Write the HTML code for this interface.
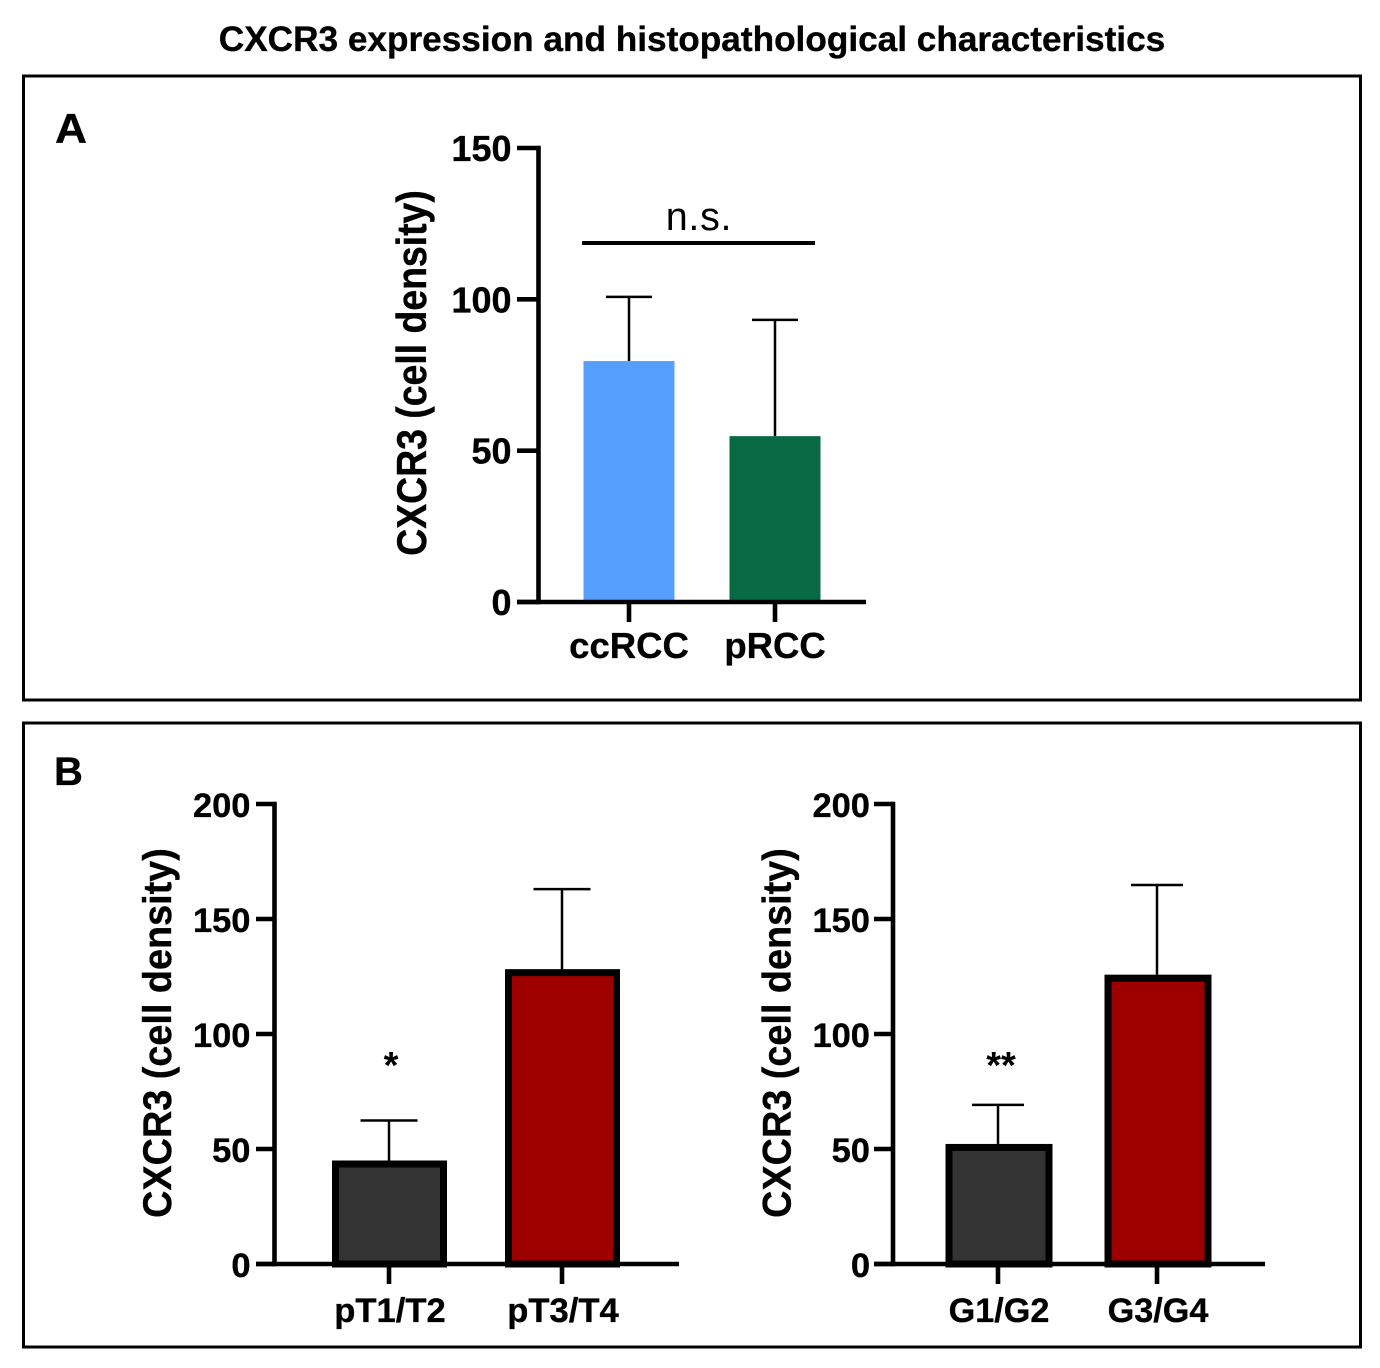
<!DOCTYPE html>
<html lang="en">
<head>
<meta charset="utf-8">
<title>CXCR3 expression and histopathological characteristics</title>
<style>
html,body{margin:0;padding:0;background:#fff;}
svg{display:block;}
text{font-family:"Liberation Sans",Arial,sans-serif;fill:#000;}
text.heavy{stroke:#000;stroke-width:0.35px;}
</style>
</head>
<body>
<svg id="figure" xmlns="http://www.w3.org/2000/svg" width="1380" height="1368" viewBox="0 0 1380 1368">
  <rect x="0" y="0" width="1380" height="1368" fill="#fff"/>
  <text class="heavy" x="692" y="51" font-size="35.2" font-weight="700" text-anchor="middle">CXCR3 expression and histopathological characteristics</text>
  <rect x="23.5" y="76" width="1337" height="624" fill="none" stroke="#000" stroke-width="3"/>
  <rect x="23.5" y="723" width="1337" height="624" fill="none" stroke="#000" stroke-width="3"/>
  <text class="heavy" x="55" y="143" font-size="42" font-weight="700" textLength="32" lengthAdjust="spacingAndGlyphs">A</text>
  <text class="heavy" x="54" y="785" font-size="40" font-weight="700">B</text>
  <g id="chart-a"></g>
  <g id="chart-b1"></g>
  <g id="chart-b2"></g>
  <line x1="582" y1="243" x2="815" y2="243" stroke="#000" stroke-width="4"/>
  <text x="699" y="230" font-size="39.5" letter-spacing="0.7" text-anchor="middle">n.s.</text>
  <text x="391" y="1078" font-size="38" font-weight="700" text-anchor="middle">*</text>
  <text x="1001" y="1078" font-size="38" font-weight="700" text-anchor="middle">**</text>
</svg>
<script>
// Panel A data
var histologyCategories = ['ccRCC', 'pRCC'];
var histologyMeans = [79.6, 54.8];
var histologyErrorTops = [100.8, 93.2];
var histologyTicks = [0, 50, 100, 150];

// Panel B, stage data
var stageCategories = ['pT1/T2', 'pT3/T4'];
var stageMeans = [45, 128.2];
var stageErrorTops = [62.4, 163];
var stageTicks = [0, 50, 100, 150, 200];

// Panel B, grade data
var gradeCategories = ['G1/G2', 'G3/G4'];
var gradeMeans = [52.2, 125.8];
var gradeErrorTops = [69.2, 164.8];
var gradeTicks = [0, 50, 100, 150, 200];

var SVG_NS = 'http://www.w3.org/2000/svg';

function makeLine(parent, x1, y1, x2, y2, width) {
  var l = document.createElementNS(SVG_NS, 'line');
  l.setAttribute('x1', x1);
  l.setAttribute('y1', y1);
  l.setAttribute('x2', x2);
  l.setAttribute('y2', y2);
  l.setAttribute('stroke', '#000');
  l.setAttribute('stroke-width', width);
  parent.appendChild(l);
  return l;
}

function makeText(parent, str, x, y, size, anchor) {
  var t = document.createElementNS(SVG_NS, 'text');
  t.setAttribute('x', x);
  t.setAttribute('y', y);
  t.setAttribute('font-size', size);
  t.setAttribute('font-weight', '700');
  t.setAttribute('text-anchor', anchor);
  t.setAttribute('class', 'heavy');
  t.textContent = str;
  parent.appendChild(t);
  return t;
}

function drawChart(id, categories, means, errorTops, ticks, o) {
  var g = document.getElementById(id);
  var maxTick = ticks[ticks.length - 1];
  function yScale(v) { return o.y0 - (v / maxTick) * (o.y0 - o.yTop); }
  function xScale(i) { return o.xFirst + i * o.xStep; }

  categories.forEach(function (cat, i) {
    var cx = xScale(i);
    var top = yScale(errorTops[i]);
    var stem = makeLine(g, cx, top, cx, yScale(means[i]), o.errWidth);
    
    
    var cap = makeLine(g, cx - o.capHalf, top, cx + o.capHalf, top, o.errWidth);
    
    

    var inset = o.border / 2;
    var barTop = yScale(means[i]);
    var bar = document.createElementNS(SVG_NS, 'rect');
    bar.setAttribute('x', cx + o.barShift - o.barWidth / 2 + inset);
    bar.setAttribute('y', barTop + inset);
    bar.setAttribute('width', o.barWidth - o.border);
    bar.setAttribute('height', Math.max(0, o.y0 - barTop - inset));
    bar.setAttribute('fill', o.colors[i]);
    if (o.border > 0) {
      bar.setAttribute('stroke', '#000');
      bar.setAttribute('stroke-width', o.border);
    }
    
    
    g.appendChild(bar);

    var xTick = makeLine(g, cx, o.y0, cx, o.y0 + o.xTickLen, o.axisWidth);
    
    

    var label = makeText(g, cat, cx + o.labelShift, o.xLabelY, o.xLabelSize, 'middle');
    
    
  });

  var yAxis = makeLine(g, o.xAxis, o.yTop - o.axisWidth / 2, o.xAxis, o.y0 + o.axisWidth / 2, o.axisWidth);
  
  
  var xAxis = makeLine(g, o.tickStart, o.y0, o.xEnd, o.y0, o.axisWidth);
  
  

  ticks.forEach(function (v) {
    var y = yScale(v);
    var tick = makeLine(g, o.tickStart, y, o.xAxis, y, o.axisWidth);
    
    
    var label = makeText(g, String(v), o.tickLabelX, y + 13, o.tickSize, 'end');
    
    
  });

  var title = makeText(g, 'CXCR3 (cell density)', 0, 0, o.titleSize, 'middle');
  title.setAttribute('transform', 'translate(' + o.titleX + ',' + o.titleY + ') rotate(-90) scale(1,' + o.titleStretch + ')');
  
  
}

drawChart('chart-a', histologyCategories, histologyMeans, histologyErrorTops, histologyTicks, {
  y0: 602, yTop: 148, xFirst: 629, xStep: 146, barShift: 0, barWidth: 91, border: 0,
  capHalf: 23, errWidth: 2.5, axisWidth: 4.6, xAxis: 538.5, tickStart: 517, xEnd: 866, xTickLen: 20,
  xLabelY: 658, xLabelSize: 36.5, labelShift: 0, tickLabelX: 511.5, tickSize: 36,
  titleX: 426, titleY: 373, titleSize: 37.4, titleStretch: 1.12, colors: ['#579fff', '#086a45']
});

drawChart('chart-b1', stageCategories, stageMeans, stageErrorTops, stageTicks, {
  y0: 1264, yTop: 804, xFirst: 389, xStep: 173, barShift: 0.5, barWidth: 115, border: 7,
  capHalf: 28.5, errWidth: 2.5, axisWidth: 4.6, xAxis: 274.5, tickStart: 256, xEnd: 679, xTickLen: 20,
  xLabelY: 1322, xLabelSize: 34.6, labelShift: 1, tickLabelX: 250.5, tickSize: 34.5,
  titleX: 171, titleY: 1033, titleSize: 37.8, titleStretch: 1.05, colors: ['#333333', '#9e0000']
});

drawChart('chart-b2', gradeCategories, gradeMeans, gradeErrorTops, gradeTicks, {
  y0: 1264, yTop: 804, xFirst: 998, xStep: 159, barShift: 1, barWidth: 107, border: 7,
  capHalf: 26, errWidth: 2.5, axisWidth: 4.6, xAxis: 893, tickStart: 874, xEnd: 1265, xTickLen: 20,
  xLabelY: 1322, xLabelSize: 34.2, labelShift: 1, tickLabelX: 870, tickSize: 34.5,
  titleX: 790.5, titleY: 1033, titleSize: 37.8, titleStretch: 1.05, colors: ['#333333', '#9e0000']
});
</script>
</body>
</html>
